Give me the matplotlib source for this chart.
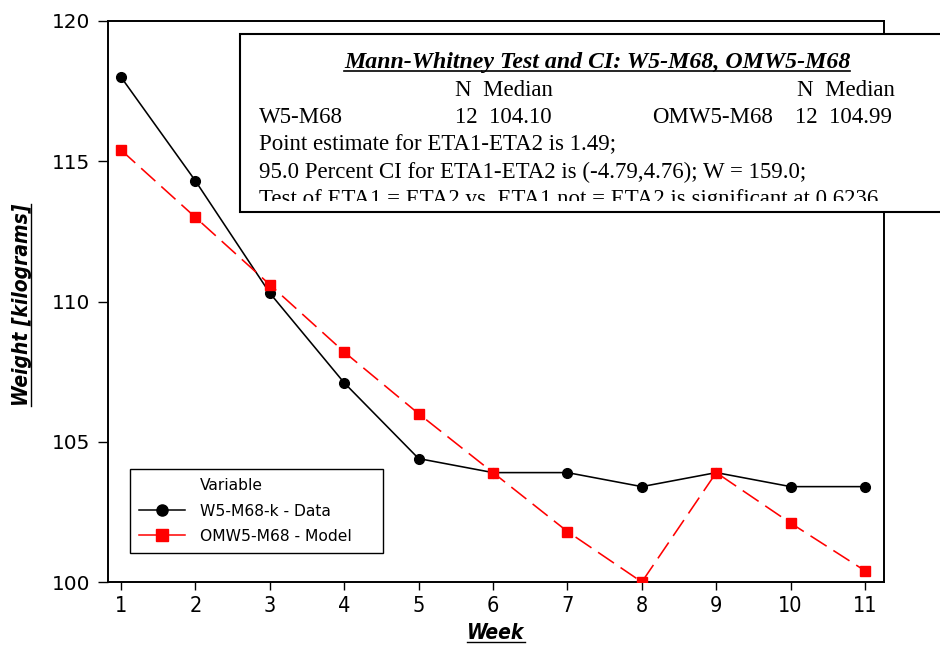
import matplotlib
matplotlib.use("Agg")
import matplotlib.pyplot as plt
from matplotlib.lines import Line2D
from matplotlib.patches import Rectangle

# ---- data -------------------------------------------------------------
weeks = [1, 2, 3, 4, 5, 6, 7, 8, 9, 10, 11]
data_weight = [118.0, 114.3, 110.3, 107.1, 104.4, 103.9, 103.9, 103.4, 103.9, 103.4, 103.4]
model_weight = [115.4, 113.0, 110.6, 108.2, 106.0, 103.9, 101.8, 100.0, 103.9, 102.1, 100.4]
y_ticks = [100, 105, 110, 115, 120]
series_labels = ["W5-M68-k - Data", "OMW5-M68 - Model"]
legend_title = "Variable"

W, H = 940, 649
fig = plt.figure(figsize=(W / 100, H / 100), dpi=100)
fig.patch.set_facecolor("white")

# pixel -> figure fraction (y measured from the top)
def fx(x):
    return x / W

def fy(y):
    return 1 - y / H

ax = fig.add_axes([fx(108), fy(582), (884 - 108) / W, (582 - 21) / H])
ax.set_xlim(0.825, 11.255)
ax.set_ylim(100, 120)

ax.plot(weeks, data_weight, color="black", lw=1.15, marker="o", ms=7,
        markerfacecolor="black", markeredgecolor="black", zorder=3)
ax.plot(weeks, model_weight, color="red", lw=1.15, linestyle=(0, (12, 5)),
        marker="s", ms=7.5, markerfacecolor="red", markeredgecolor="red", zorder=3)

for sp in ax.spines.values():
    sp.set_linewidth(1.4)
ax.set_xticks(weeks)
ax.set_yticks(y_ticks)
ax.tick_params(axis="y", direction="out", length=7.2, width=1.0, pad=5.5,
               labelsize=14.4)
ax.tick_params(axis="x", direction="out", length=5.8, width=1.0, pad=4.0)
for lbl in ax.get_xticklabels():
    lbl.set_fontfamily("DejaVu Sans")
    lbl.set_fontstretch("condensed")
    lbl.set_fontsize(15.5)
for lbl in ax.get_yticklabels():
    lbl.set_fontfamily("DejaVu Sans")

# axis titles (bold, oblique, underlined)
xlab = fig.text(fx(496), fy(633), "Week", ha="center", va="center",
                family="DejaVu Sans", stretch="condensed", weight="bold",
                style="italic", size=15)
ylab = fig.text(fx(22), fy(305), "Weight [kilograms]", ha="center", va="center",
                rotation=90, family="DejaVu Sans", stretch="condensed",
                weight="bold", style="italic", size=15)

# legend: first row carries the group caption with an empty handle
blank = Line2D([], [], linestyle="none", marker=None)
h_data = Line2D([], [], color="black", lw=1.1, marker="o", ms=8,
                markerfacecolor="black")
h_model = Line2D([], [], color="red", lw=1.1, marker="s", ms=8,
                 markerfacecolor="red")
leg = ax.legend([blank, h_data, h_model], [legend_title] + series_labels,
                loc="lower left",
                bbox_to_anchor=(fx(130), fy(553), (383 - 130) / W, (553 - 468) / H),
                bbox_transform=fig.transFigure, mode="expand", borderaxespad=0,
                fancybox=False, framealpha=1, edgecolor="black",
                prop={"family": "DejaVu Sans", "size": 11.2},
                handlelength=2.95, handletextpad=0.95, labelspacing=0.65,
                borderpad=0.6)
leg.get_frame().set_linewidth(1.0)

# Mann-Whitney summary panel
box = Rectangle((fx(240), fy(212)), (960 - 240) / W, (212 - 34) / H,
                transform=fig.transFigure, facecolor="white", edgecolor="black",
                lw=1.5, zorder=5, clip_on=False)
fig.add_artist(box)

# text area inside the panel; the last line runs past its lower edge
text_area = Rectangle((fx(242), fy(201)), (960 - 242) / W, (201 - 36) / H,
                      transform=fig.transFigure, facecolor="none",
                      edgecolor="none")
fig.add_artist(text_area)

serif = "Liberation Serif"
fs = 16.5
panel_texts = []
title = fig.text(fx(597), fy(68), "Mann-Whitney Test and CI: W5-M68, OMW5-M68",
                 ha="center", va="baseline", family=serif, weight="bold",
                 style="italic", size=17.2, zorder=6)
panel_texts.append(title)
rows = [
    (455, 96, "N  Median"),
    (797, 96, "N  Median"),
    (259, 123, "W5-M68"),
    (455, 123, "12  104.10"),
    (652, 123, "OMW5-M68"),
    (795, 123, "12  104.99"),
    (259, 150.5, "Point estimate for ETA1-ETA2 is 1.49;"),
    (259, 178, "95.0 Percent CI for ETA1-ETA2 is (-4.79,4.76); W = 159.0;"),
    (259, 205.5, "Test of ETA1 = ETA2 vs  ETA1 not = ETA2 is significant at 0.6236"),
]
for x, y, s in rows:
    t = fig.text(fx(x), fy(y), s, ha="left", va="baseline", family=serif,
                 size=fs, zorder=6)
    panel_texts.append(t)
for t in panel_texts:
    t.set_clip_path(text_area)

# underline helper (drawn after layout so the text extents are known)
fig.canvas.draw()
renderer = fig.canvas.get_renderer()

def underline(txt, offset, lw, vertical=False):
    bb = txt.get_window_extent(renderer)
    if vertical:
        x = bb.x1 + offset
        line = Line2D([x / W, x / W], [bb.y0 / H, bb.y1 / H],
                      transform=fig.transFigure, color="black", lw=lw)
    else:
        y = bb.y0 + offset
        line = Line2D([bb.x0 / W, bb.x1 / W], [y / H, y / H],
                      transform=fig.transFigure, color="black", lw=lw)
    line.set_zorder(7)
    fig.add_artist(line)

underline(xlab, 1.0, 1.0)
underline(ylab, -1.0, 1.0, vertical=True)
underline(title, 2.0, 1.2)

fig.savefig("out.png", dpi=100, facecolor="white")
